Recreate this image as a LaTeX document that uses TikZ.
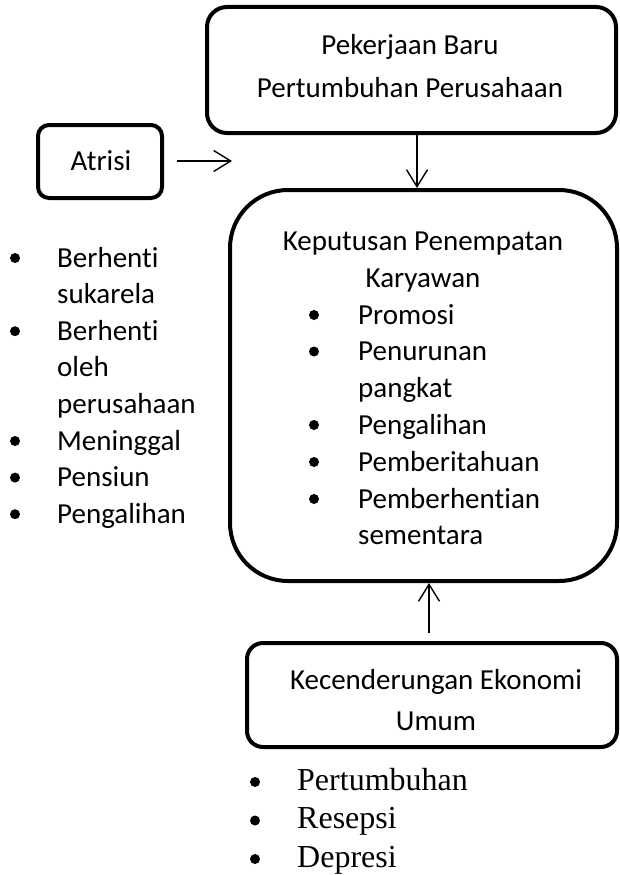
\documentclass[tikz,border=0pt]{standalone}
\usepackage{fontspec}
\setmainfont{Carlito}[Ligatures=NoCommon]
\newfontfamily\timesf{Liberation Serif}
\usetikzlibrary{arrows.meta}
\begin{document}
\begin{tikzpicture}[x=1pt,y=-1pt,
  box/.style={draw, line width=4pt, rounded corners=#1, inner sep=0pt},
  arr/.style={line width=1.4pt, -{Straight Barb[length=17pt,width=21pt]}},
  txt/.style={font=\fontsize{29}{35}\selectfont, inner sep=0pt, anchor=base},
  itm/.style={font=\fontsize{29}{35}\selectfont, inner sep=0pt, anchor=base west},
  titm/.style={font=\timesf\fontsize{32}{38}\selectfont, inner sep=0pt, anchor=base west},
  bul/.style={circle, fill=black, inner sep=0pt, minimum size=10pt}]
\useasboundingbox (0,0) rectangle (620,875);
% boxes
\node[box=20pt, minimum width=409pt, minimum height=126pt] (top) at (411.5,70) {};
\node[box=11pt, minimum width=124pt, minimum height=73pt] (atr) at (100,161.5) {};
\node[box=58pt, minimum width=387pt, minimum height=391pt] (cen) at (423.5,385.5) {};
\node[box=16pt, minimum width=370pt, minimum height=104pt] (bot) at (432,695) {};
% box texts
\node[txt] (t1) at (410,55) {Pekerjaan Baru};
\node[txt] (t2) at (410,97) {Pertumbuhan Perusahaan};
\node[txt] (a1) at (101,170) {Atrisi};
\node[txt] (c1) at (423,250) {Keputusan Penempatan};
\node[txt] (c2) at (423,287) {Karyawan};
\node[txt] (k1) at (436,689) {Kecenderungan Ekonomi};
\node[txt] (k2) at (436,730) {Umum};
% connectors
\coordinate (as) at (177,161);
\coordinate (ae) at (232,161);
\draw[arr] (as) -- (ae);
\coordinate (dA) at (417,0);
\draw[arr] (top.south -| dA) -- (cen.north -| dA);
\coordinate (uS) at (429,633);
\draw[arr] (uS) -- (cen.south -| uS);
% left list
\foreach \yy/\tt/\b [count=\i] in {267/Berhenti/1, 303.6/sukarela/0, 340.2/Berhenti/1, 376.8/oleh/0, 413.4/perusahaan/0, 450/Meninggal/1, 486.6/Pensiun/1, 523.2/Pengalihan/1}{
  \node[itm] (L\i) at (57,\yy) {\tt};
  \ifnum\b=1 \node[bul] (LB\i) at (15,\yy-9) {};\fi
}
% center list
\foreach \yy/\tt/\b [count=\i] in {324/Promosi/1, 360.5/Penurunan/1, 397/pangkat/0, 434/Pengalihan/1, 471/Pemberitahuan/1, 508/Pemberhentian/1, 544/sementara/0}{
  \node[itm] (C\i) at (358,\yy) {\tt};
  \ifnum\b=1 \node[bul] (CB\i) at (314,\yy-9) {};\fi
}
% bottom list
\foreach \yy/\tt [count=\i] in {790/Pertumbuhan, 828.5/Resepsi, 867/Depresi}{
  \node[titm] (B\i) at (297,\yy) {\tt};
  \node[bul] (BB\i) at (255,\yy-8) {};
}
\end{tikzpicture}
\end{document}
